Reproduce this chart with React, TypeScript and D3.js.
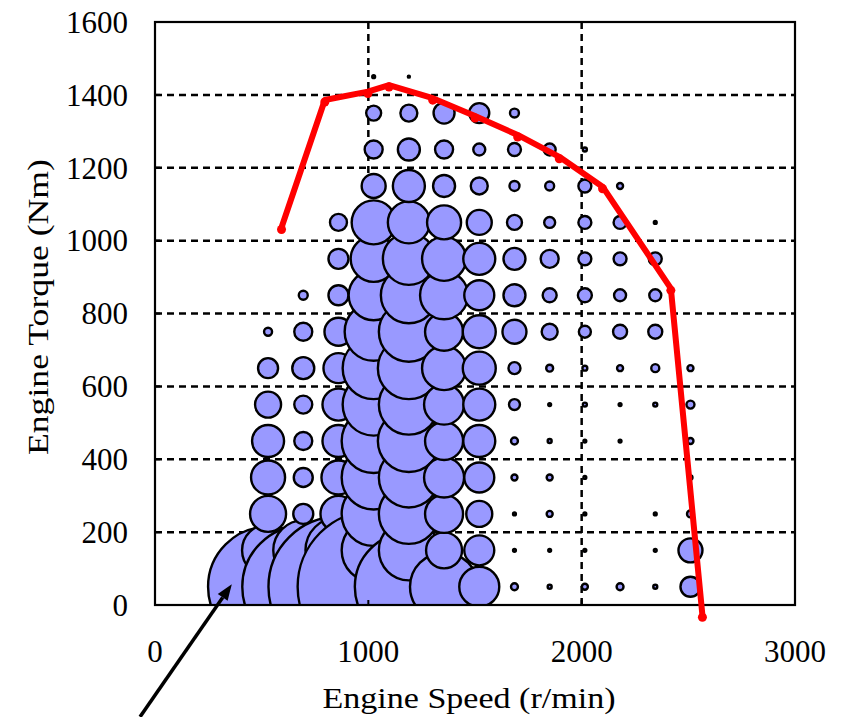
import * as d3 from "d3";

// engine operating points: speed columns (r/min) and torque rows (Nm)
const speeds = [530, 695, 860, 1025, 1190, 1355, 1520, 1685, 1850, 2015, 2180, 2345, 2510];
const torques = [1450, 1350, 1250, 1150, 1050, 950, 850, 750, 650, 550, 450, 350, 250, 150, 50];

// time share (%) at each point, one row per torque above (top to bottom)
const timeShare = [
  [0, 0, 0, 0.02, 0.01, 0, 0, 0, 0, 0, 0, 0, 0],
  [0, 0, 0, 0.56, 0.72, 1.1, 1.0, 0.2, 0, 0, 0, 0, 0],
  [0, 0, 0, 0.81, 1.21, 0.81, 0.36, 0.42, 0.36, 0.04, 0, 0, 0],
  [0, 0, 0, 1.44, 2.56, 1.21, 0.72, 0.25, 0.2, 0.42, 0.09, 0, 0],
  [0, 0, 0.72, 4.84, 4.41, 2.89, 1.56, 0.56, 0.3, 0.42, 0.42, 0.02, 0],
  [0, 0, 1.0, 5.29, 6.76, 4.84, 2.56, 1.21, 0.81, 0.42, 0.42, 0.42, 0],
  [0, 0.2, 1.0, 6.25, 7.84, 5.76, 2.25, 1.21, 0.49, 0.49, 0.36, 0.36, 0],
  [0.16, 0.81, 1.96, 8.41, 9.0, 3.61, 2.72, 1.44, 0.64, 0.36, 0.49, 0.49, 0],
  [1.0, 1.21, 2.25, 9.61, 9.61, 4.84, 2.72, 0.36, 0.12, 0.06, 0.09, 0.16, 0.09],
  [1.69, 0.81, 2.56, 9.61, 9.0, 4.0, 2.56, 0.3, 0.02, 0.04, 0.02, 0.04, 0.16],
  [2.56, 0.81, 2.56, 10.24, 9.61, 3.61, 2.56, 0.12, 0.04, 0.02, 0.02, 0, 0.09],
  [2.89, 0.9, 2.89, 10.24, 9.0, 4.0, 2.25, 0.09, 0.09, 0.02, 0, 0, 0.04],
  [3.24, 1.0, 3.24, 10.24, 9.0, 3.61, 1.69, 0.02, 0.09, 0.02, 0, 0.02, 0.12],
  [6.76, 9.0, 10.89, 10.24, 9.0, 3.24, 2.25, 0.02, 0.02, 0.02, 0, 0.02, 1.44],
  [36.0, 37.2, 49.0, 57.8, 29.2, 11.6, 4.0, 0.12, 0.04, 0.09, 0.12, 0.04, 1.0],
];

// external characteristic (full load torque curve)
const curveSpeed = [593, 796, 998, 1097, 1302, 1500, 1700, 1895, 2098, 2418, 2566];
const curveTorque = [1036, 1386, 1409, 1427, 1391, 1342, 1290, 1230, 1148, 869, -28];

const xTicks = [0, 1000, 2000, 3000];
const yTicks = [0, 200, 400, 600, 800, 1000, 1200, 1400, 1600];
const xGrid = [1000, 2000];
const yGrid = [200, 400, 600, 800, 1000, 1200, 1400];

// arrow annotation: tail and tip in data units
const arrowFrom = [-70, -307];
const arrowTo = [360, 57];

export default function App() {
  const W = 846;
  const H = 717;
  const x = d3.scaleLinear().domain([0, 3000]).range([155, 795]);
  const y = d3.scaleLinear().domain([0, 1600]).range([605, 22]);
  const r = d3.scaleSqrt().domain([0, 100]).range([0, 100]);

  // draw column by column, low torque first, like the source chart
  const bubbles: { s: number; t: number; v: number }[] = [];
  speeds.forEach((s, ci) => {
    for (let ri = torques.length - 1; ri >= 0; ri--) {
      const v = timeShare[ri][ci];
      if (v > 0) bubbles.push({ s, t: torques[ri], v });
    }
  });

  const line = d3
    .line<number>()
    .x((_, i) => x(curveSpeed[i]))
    .y((d) => y(d));

  const font = "Liberation Serif";

  // arrow head
  const ax0 = x(arrowFrom[0]), ay0 = y(arrowFrom[1]);
  const ax1 = x(arrowTo[0]), ay1 = y(arrowTo[1]);
  const ang = Math.atan2(ay1 - ay0, ax1 - ax0);
  const hl = 16, hw = 6;
  const bx = ax1 - hl * Math.cos(ang), by = ay1 - hl * Math.sin(ang);
  const head = [
    [ax1, ay1],
    [bx + hw * Math.sin(ang), by - hw * Math.cos(ang)],
    [bx - hw * Math.sin(ang), by + hw * Math.cos(ang)],
  ];

  return (
    <svg
      width={W}
      height={H}
      style={{ position: "absolute", left: 0, top: 0, background: "#fff" }}
    >
      <defs>
        <clipPath id="plotClip">
          <rect x={x(0)} y={y(1600)} width={x(3000) - x(0)} height={y(0) - y(1600)} />
        </clipPath>
      </defs>
      <rect width={W} height={H} fill="#fff" />

      {yGrid.map((t) => (
        <line key={"gy" + t} x1={x(0)} x2={x(3000)} y1={y(t)} y2={y(t)}
          stroke="#000" strokeWidth={2.5} strokeDasharray="7 5" />
      ))}
      {xGrid.map((s) => (
        <line key={"gx" + s} x1={x(s)} x2={x(s)} y1={y(0)} y2={y(1600)}
          stroke="#000" strokeWidth={2.5} strokeDasharray="7 5" />
      ))}

      <g clipPath="url(#plotClip)">
        {bubbles.map((b, i) => (
          <circle key={i} cx={x(b.s)} cy={y(b.t)} r={r(b.v)}
            fill="#9999FF" stroke="#000" strokeWidth={2.4} />
        ))}
      </g>

      <rect x={x(0)} y={y(1600)} width={x(3000) - x(0)} height={y(0) - y(1600)}
        fill="none" stroke="#000" strokeWidth={2.2} />
      {yTicks.map((t) => (
        <line key={"ty" + t} x1={x(0)} x2={x(0) + 5} y1={y(t)} y2={y(t)} stroke="#000" strokeWidth={2} />
      ))}
      {xTicks.map((s) => (
        <line key={"tx" + s} x1={x(s)} x2={x(s)} y1={y(0)} y2={y(0) - 5} stroke="#000" strokeWidth={2} />
      ))}

      <path d={line(curveTorque) || ""} fill="none" stroke="#FF0000" strokeWidth={6}
        strokeLinejoin="round" strokeLinecap="round" />
      {curveTorque.map((t, i) => (
        <circle key={"m" + i} cx={x(curveSpeed[i])} cy={y(t) + 2} r={4.5} fill="#FF0000" />
      ))}

      {yTicks.map((t) => (
        <text key={"ly" + t} x={x(0) - 27} y={y(t)} dy="0.35em" textAnchor="end"
          fontFamily={font} fontSize={31}>{t}</text>
      ))}
      {xTicks.map((s) => (
        <text key={"lx" + s} x={x(s)} y={y(0) + 46} dy="0.35em" textAnchor="middle"
          fontFamily={font} fontSize={31}>{s}</text>
      ))}

      <text x={469} y={708} textAnchor="middle" fontFamily={font} fontSize={30}
        textLength={293} lengthAdjust="spacingAndGlyphs">Engine Speed (r/min)</text>
      <text transform="translate(48,307) rotate(-90)" textAnchor="middle" fontFamily={font}
        fontSize={30} textLength={296} lengthAdjust="spacingAndGlyphs">Engine Torque (Nm)</text>

      <line x1={ax0} y1={ay0} x2={bx} y2={by} stroke="#000" strokeWidth={3.5} />
      <polygon points={head.map((p) => p.join(",")).join(" ")} fill="#000" />
    </svg>
  );
}
